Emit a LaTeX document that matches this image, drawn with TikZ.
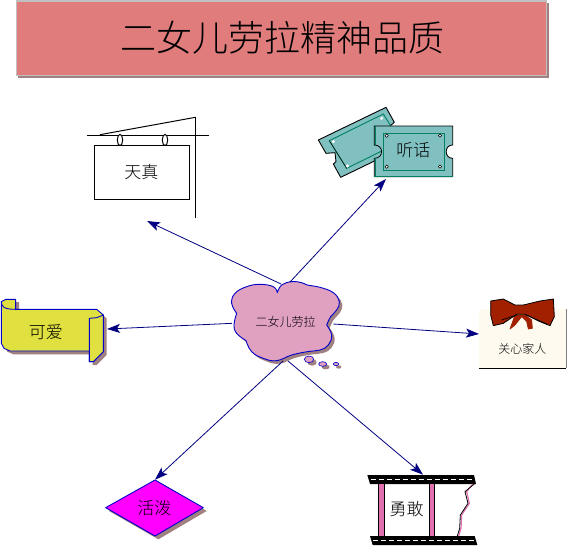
\documentclass[tikz,border=0pt]{standalone}
\usepackage{fontspec}
\setmainfont{Noto Sans CJK SC Light}
\usetikzlibrary{arrows.meta}
\definecolor{shadowc}{HTML}{A08080}
\definecolor{titlec}{HTML}{E07C7C}
\definecolor{bluec}{HTML}{0000C8}
\definecolor{navyc}{HTML}{000080}
\definecolor{tealc}{HTML}{80C0C0}
\definecolor{greenc}{HTML}{008060}
\definecolor{yellowc}{HTML}{E0E040}
\definecolor{pinkc}{HTML}{E0A0C0}
\definecolor{bowc}{HTML}{A02000}
\definecolor{creamc}{HTML}{FFFAF0}
\definecolor{stripec}{HTML}{E070B0}
\definecolor{magentac}{HTML}{FF00FF}
\newcommand{\lbl}[1]{\fontsize{#1}{#1}\selectfont}
\newcommand{\cloudoutline}{plot[smooth,tension=.7] coordinates {(172,68)(185,45)(215,35)(245,38)(262,45)(300,52)(340,68)(358,95)(350,120)(332,140)(320,165)}
 -- plot[smooth,tension=.7] coordinates {(320,165)(335,195)(325,225)(300,240)(262,245)(215,255)(170,272)(130,265)(95,245)(78,212)}
 -- plot[smooth,tension=.7] coordinates {(78,212)(50,190)(42,165)(50,130)}
 -- plot[smooth,tension=.7] coordinates {(50,130)(35,100)(45,70)(80,50)(120,43)(160,50)(172,68)} -- cycle}
\newcommand{\scrolloutline}{(4,65) -- (18,58) -- (47,58) -- (47,88) -- (290,88) -- (310,105) -- (310,215) -- (280,245) -- (268,245) -- (268,213) -- (30,213) -- (12,205) -- (4,190) -- cycle}
\tikzset{
 label12/.style={inner sep=0pt,font=\lbl{12}},
 label17/.style={inner sep=0pt,font=\lbl{17}},
 link/.style={draw=navyc,line width=.8pt,-{Stealth[length=13pt,width=9pt,inset=3pt,fill=navyc]}},
 blueline/.style={draw=bluec,line width=.9pt},
 bubble/.style={draw=bluec,line width=.6pt,fill=pinkc},
 filmbar/.style={fill=black,draw=none},
 filmdash/.style={draw=white,line width=.8pt,dash pattern=on 5pt off 3pt}
}
\begin{document}
\begin{tikzpicture}[x=1pt,y=-1pt]
\useasboundingbox (0,0) rectangle (567,546);
% title
\fill[shadowc] (18,3) rectangle (549,78);
\node[draw={rgb,255:red,192;green,192;blue,192},fill=titlec,line width=1pt,minimum width=530pt,minimum height=74pt,anchor=north west,inner sep=0pt] (title) at (15.5,.5) {};
\node[inner sep=0pt,font=\lbl{36}] (titletext) at (282,38) {二女儿劳拉精神品质};
% sign
\begin{scope}[shift={(70,90)},scale=1/3]
\draw[line width=1pt] (52,135) -- (416,135);
\draw[line width=1pt] (376,82) -- (376,385);
\draw[line width=1pt] (90,134) -- (376,82);
\draw[line width=1pt,fill=white] (150,150) ellipse (8 and 17);
\draw[line width=1pt,fill=white] (285,150) ellipse (8 and 17);
\node[draw,line width=1pt,fill=white,anchor=north west,minimum width=95pt,minimum height=54pt,inner sep=0pt] (signbox) at (73,166) {};
\node[label17] (signtext) at (214,246) {天真};
\coordinate (signin) at (231,393);
\end{scope}
% tickets
\begin{scope}[shift={(300,90)},scale=1/3]
\draw[fill=tealc,line width=.9pt,line join=round] (55,150) -- (258,52) -- (283,97) -- (270,108) -- (325,164) -- (122,262) -- (100,222) -- (108,215) -- (105,188) -- (78,190) -- cycle;
\draw[greenc,line width=.9pt] (88,152) -- (250,72) -- (302,155) -- (140,235) -- cycle;
\draw[black,line width=.5pt] (88,152) -- (140,235);
\fill[white] (100,155) circle (5) (245,85) circle (5) (142,228) circle (5);
\draw[black,line width=.8pt,fill=tealc] (223,108) -- (458,108) -- (458,165) .. controls (432,165) and (432,205) .. (458,205) -- (458,260) -- (223,260) -- (223,205) .. controls (252,205) and (252,165) .. (223,165) -- cycle;
\draw[greenc,line width=1.6pt] (223,260) -- (458,260);
\draw[greenc,line width=1.6pt] (226,108) -- (226,165);
\draw[greenc,line width=1.6pt] (226,205) -- (226,260);
\node[draw=greenc,line width=1.3pt,anchor=north west,minimum width=61pt,minimum height=37pt,inner sep=0pt] (ticketbox) at (248,128) {};
\foreach \p in {(260,137),(420,137),(260,230),(420,230)} \draw[black,line width=.5pt,fill=white] \p circle (5);
\node[label17] (tickettext) at (340,181) {听话};
\coordinate (ticketin) at (258,267);
\end{scope}
% scroll
\begin{scope}[shift={(0,280)},scale=1/3]
\fill[shadowc,shift={(10,10)}] \scrolloutline;
\fill[shadowc] (47,65) rectangle (57,88);
\draw[blueline,fill=yellowc,line join=round] \scrolloutline;
\draw[blueline] (4,65) .. controls (4,80) and (12,88) .. (47,88);
\draw[blueline,fill=yellowc,line join=round] (268,115) -- (290,113) -- (310,105) -- (310,215) -- (280,245) -- (268,245) -- cycle;
\node[label17] (scrolltext) at (138,155) {可爱};
\coordinate (scrollin) at (321,147);
\end{scope}
% cloud
\begin{scope}[shift={(220,270)},scale=1/3]
\fill[shadowc,shift={(9,9)}] \cloudoutline;
\draw[blueline,fill=pinkc,line join=round] \cloudoutline;
\fill[shadowc] (276,277) ellipse (14 and 10);
\fill[shadowc] (317,291) ellipse (12 and 7);
\fill[shadowc] (356,291) ellipse (8 and 5);
\draw[bubble] (267,268) ellipse (14 and 10);
\draw[bubble] (308,282) ellipse (12 and 7);
\draw[bubble] (348,282) ellipse (8 and 5);
\node[label12] (cloudtext) at (197,157) {二女儿劳拉};
\coordinate (cloudnw) at (183,42);
\coordinate (cloudne) at (210,36);
\coordinate (cloudw) at (36,160);
\coordinate (cloude) at (340,162);
\coordinate (cloudsw) at (189,273);
\coordinate (cloudse) at (204,273);
\end{scope}
% card
\begin{scope}[shift={(460,285)},scale=1/3]
\fill[creamc] (57,72) rectangle (318,250);
\draw[line width=1pt] (57,250) -- (318,250);
\draw[line width=.5pt,draw=black!50] (318,72) -- (318,250);
\draw[fill=bowc,draw=bowc,line width=.7pt,line join=round] (165,90) -- (150,132) -- (165,120) -- (185,95) -- (200,110) -- (205,132) -- (217,130) -- (215,105) -- (195,90) -- cycle;
\draw[fill=bowc,line width=.8pt,line join=round] (92,48) -- (130,42) -- (165,60) -- (190,60) -- (240,48) -- (280,42) -- (283,95) -- (270,122) -- (240,110) -- (195,88) -- (170,88) -- (130,115) -- (100,122) -- (92,90) -- cycle;
\draw[line width=.7pt] (125,105) -- (170,90);
\draw[line width=.7pt] (195,88) -- (262,118);
\node[label12] (cardtext) at (187,192) {关心家人};
\coordinate (cardin) at (57,147);
\end{scope}
% film
\begin{scope}[shift={(350,460)},scale=1/3]
\fill[filmbar] (52,45) -- (372,45) -- (378,72) -- (60,72) -- cycle;
\fill[filmbar] (60,228) -- (374,228) -- (382,255) -- (68,255) -- cycle;
\draw[filmdash] (62,58) -- (370,58);
\draw[filmdash] (70,241) -- (378,241);
\fill[stripec] (85,72) rectangle (102,228);
\fill[stripec] (238,72) rectangle (254,228);
\draw[line width=1pt] (85,72) -- (85,228) (102,72) -- (102,228) (238,72) -- (238,228) (254,72) -- (254,228);
\draw[stripec,line width=1.2pt] (368,72) -- (350,95) -- (358,130) -- (335,165) -- (333,205) -- (326,228);
\draw[line width=.8pt] (375,70) -- (345,95) -- (354,130) -- (331,165) -- (329,205) -- (322,228);
\node[label17] (filmtext) at (170,148) {勇敢};
\coordinate (filmin) at (219,44);
\end{scope}
% diamond
\begin{scope}[shift={(95,465)},scale=1/3]
\fill[shadowc] (42,138) -- (190,55) -- (335,138) -- (190,223) -- cycle;
\draw[blueline,fill=magentac,line join=round] (32,128) -- (180,45) -- (325,128) -- (180,213) -- cycle;
\node[label17] (diamondtext) at (178,128) {活泼};
\coordinate (diamondin) at (180,44);
\end{scope}
% connectors
\draw[link] (cloudnw) -- (signin);
\draw[link] (cloudne) -- (ticketin);
\draw[link] (cloudw) -- (scrollin);
\draw[link] (cloude) -- (cardin);
\draw[link] (cloudsw) -- (diamondin);
\draw[link] (cloudse) -- (filmin);
\end{tikzpicture}
\end{document}
